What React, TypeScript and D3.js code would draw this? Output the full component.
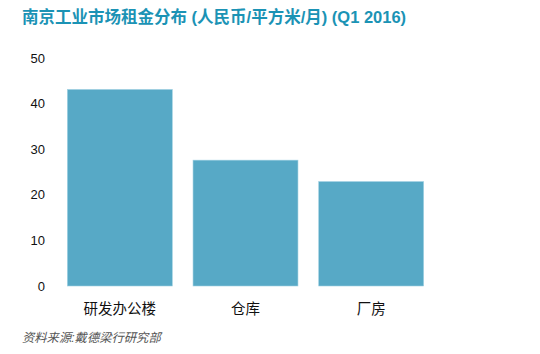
import React, { useEffect, useRef } from "react";
import * as d3 from "d3";

const categories = ["研发办公楼", "仓库", "厂房"];
const rents = [43.1, 27.6, 22.9];
const yTicks = [0, 10, 20, 30, 40, 50];

const titleText = "南京工业市场租金分布 (人民币/平方米/月) (Q1 2016)";
const sourceText = "资料来源:戴德梁行研究部";

const fontStack = "'Liberation Sans', Arial, 'Noto Sans CJK SC', sans-serif";

const App = () => {
  const ref = useRef<SVGSVGElement>(null);

  useEffect(() => {
    const svg = d3.select(ref.current);
    svg.selectAll("*").remove();

    const x = d3
      .scaleBand()
      .domain(categories)
      .range([57, 434])
      .paddingInner(0.165)
      .paddingOuter(0.0825);

    const y = d3.scaleLinear().domain([0, 50]).range([286, 58]);

    svg
      .append("text")
      .attr("x", 22)
      .attr("y", 23)
      .attr("fill", "#1b93b5")
      .style("font-size", "16.5px")
      .style("font-weight", "bold")
      .text(titleText);

    svg
      .append("g")
      .selectAll("rect")
      .data(rents)
      .enter()
      .append("rect")
      .attr("x", (d, i) => x(categories[i]) as number)
      .attr("y", d => y(d))
      .attr("width", x.bandwidth())
      .attr("height", d => y(0) - y(d))
      .attr("fill", "#57a9c6")
      .attr("stroke", "#9fd0e2")
      .attr("stroke-width", 0.6);

    const yAxis = svg
      .append("g")
      .attr("transform", "translate(45,0)")
      .call(d3.axisLeft(y).tickValues(yTicks).tickSize(0).tickPadding(0));
    yAxis.select(".domain").remove();
    yAxis
      .selectAll("text")
      .attr("fill", "#111")
      .style("font-size", "13px")
      .style("font-family", fontStack);

    const xAxis = svg
      .append("g")
      .attr("transform", "translate(0,286)")
      .call(d3.axisBottom(x).tickSize(0).tickPadding(18));
    xAxis.select(".domain").remove();
    xAxis
      .selectAll("text")
      .attr("fill", "#111")
      .style("font-size", "14.5px")
      .style("font-family", fontStack);

    svg
      .append("text")
      .attr("x", 22)
      .attr("y", 342)
      .attr("fill", "#555")
      .style("font-size", "12.3px")
      .style("font-style", "italic")
      .text(sourceText);
  }, []);

  return (
    <svg
      ref={ref}
      width={540}
      height={354}
      style={{ position: "absolute", left: 0, top: 0, fontFamily: fontStack, background: "#fff" }}
    />
  );
};

export default App;
